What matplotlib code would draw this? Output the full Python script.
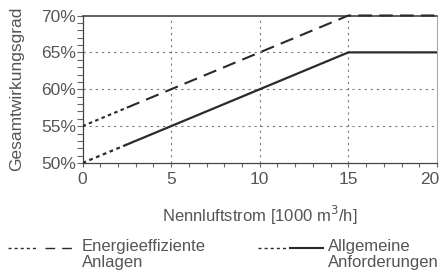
import matplotlib
matplotlib.use("Agg")
import matplotlib.pyplot as plt
import matplotlib.transforms as mtrans
from matplotlib.lines import Line2D
from matplotlib.ticker import MultipleLocator, FuncFormatter

plt.rcParams['font.family'] = ['Liberation Sans', 'DejaVu Sans']

# data (x in 1000 m3/h, y in %)
eff_dot_x = [0, 2.5]
eff_dot_y = [55, 57.5]
eff_dash_x = [2.5, 15, 20]
eff_dash_y = [57.5, 70, 70]
gen_dot_x = [0, 2.5]
gen_dot_y = [50, 52.5]
gen_solid_x = [2.5, 15, 20]
gen_solid_y = [52.5, 65, 65]

x_ticks = [0, 5, 10, 15, 20]
y_ticks = [50, 55, 60, 65, 70]
legend_labels = ['Energieeffiziente\nAnlagen', 'Allgemeine\nAnforderungen']

txt = '#555555'
ink = '#2a2a2a'
W, H = 443, 276

fig = plt.figure(figsize=(W / 100, H / 100), dpi=100)
ax = fig.add_axes([82.5/W, 1 - 163/H, (437 - 82.5)/W, (163 - 15.5)/H])

for v in [5, 10, 15]:
    ax.axvline(v, color='#7a7a7a', lw=0.8, ls=(0, (2, 3.5)), zorder=1)
for v in [55, 60, 65]:
    ax.axhline(v, color='#7a7a7a', lw=0.8, ls=(0, (2, 3.5)), zorder=1)

ax.plot(eff_dot_x, eff_dot_y, color=ink, lw=1.5, ls=(0, (1.7, 1.6)), zorder=3)
ax.plot(eff_dash_x, eff_dash_y, color=ink, lw=1.5, ls=(0, (6.5, 3.5)), zorder=3, clip_on=False)
ax.plot(gen_dot_x, gen_dot_y, color=ink, lw=1.6, ls=(0, (1.7, 1.6)), zorder=3)
ax.plot(gen_solid_x, gen_solid_y, color=ink, lw=1.6, zorder=3)

ax.set_xlim(0, 20)
ax.set_ylim(50, 70)
ax.set_xticks(x_ticks)
ax.set_yticks(y_ticks)
ax.xaxis.set_minor_locator(MultipleLocator(1))
ax.yaxis.set_minor_locator(MultipleLocator(1))
ax.yaxis.set_major_formatter(FuncFormatter(lambda v, p: '%d%%' % v))
ax.tick_params(which='both', direction='out', colors='#666666', labelcolor=txt, labelsize=12.5, width=0.8)
ax.tick_params(axis='y', which='both', length=4, pad=0.5)
ax.tick_params(axis='x', which='both', length=3, pad=3.5)

# last x tick label nudged left so it stays inside the figure
last = ax.get_xticklabels()[-1]
last.set_transform(last.get_transform() + mtrans.ScaledTranslation(-5/72, 0, fig.dpi_scale_trans))

for s in ['left', 'bottom', 'top']:
    ax.spines[s].set_color('#444444')
    ax.spines[s].set_linewidth(0.9)
ax.spines['top'].set_linewidth(1.2)
ax.spines['right'].set_color('#aaaaaa')
ax.spines['right'].set_linewidth(0.8)

ax.set_xlabel('Nennluftstrom [1000 m$^3$/h]', color=txt, fontsize=12, labelpad=12)
ax.set_ylabel('Gesamtwirkungsgrad', color=txt, fontsize=12.5, labelpad=12)


# legend keys drawn in pixel positions below the axes
def px(x, y):
    return x / W, 1 - y / H


def key(x0, x1, y, **kw):
    (a, b), (c, d) = px(x0, y), px(x1, y)
    fig.add_artist(Line2D([a, c], [b, d], transform=fig.transFigure, color=ink, **kw))


key(8, 38, 248, lw=1.0, ls=(0, (2.2, 2.2)))
key(45, 76, 248, lw=1.0, ls=(0, (7, 5)))
key(258, 288, 248, lw=1.0, ls=(0, (2.2, 2.2)))
key(290, 323, 248, lw=1.5)

for xt, lab in zip([82, 328], legend_labels):
    fig.text(*px(xt, 239), lab, color=txt, fontsize=12, va='top', ha='left', linespacing=1.05)

fig.savefig('out.png', dpi=100)
